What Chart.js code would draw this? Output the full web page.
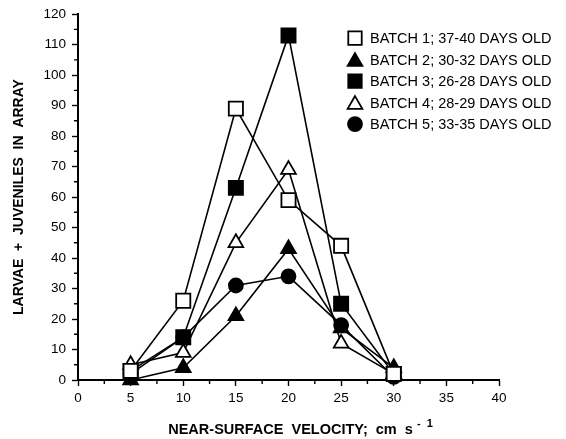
<!DOCTYPE html>
<html>
<head>
<meta charset="utf-8">
<script src="https://cdn.jsdelivr.net/npm/chart.js@4/dist/chart.umd.min.js"></script>
<style>
html,body{margin:0;padding:0;background:#fff;}
#wrap{width:566px;height:439px;}
</style>
</head>
<body>
<div id="wrap"><canvas id="c" width="566" height="439"></canvas></div>
<script>
// ---- data ----
const velocities = [5, 10, 15, 20, 25, 30];
const seriesLabels = [
  "BATCH 1; 37-40 DAYS OLD",
  "BATCH 2; 30-32 DAYS OLD",
  "BATCH 3; 26-28 DAYS OLD",
  "BATCH 4; 28-29 DAYS OLD",
  "BATCH 5; 33-35 DAYS OLD"
];
const batch1 = [3, 26, 89, 59, 44, 2];
const batch2 = [0, 4, 21, 43, 17, 4];
const batch3 = [3, 14, 63, 113, 25, 2];
const batch4 = [5, 9, 45, 69, 12, 2];
const batch5 = [2, 14, 31, 34, 18, 1];
const xTickValues = [0, 5, 10, 15, 20, 25, 30, 35, 40];
const yTickValues = [0, 10, 20, 30, 40, 50, 60, 70, 80, 90, 100, 110, 120];
const xTitle = "NEAR-SURFACE  VELOCITY;  cm  s";
const xTitleSup = "-  1";
const yTitle = "LARVAE  +  JUVENILES  IN  ARRAY";

// ---- styles ----
const FONT = '"Liberation Sans", Arial, Helvetica, sans-serif';
const markerStyles = [
  {pointStyle: 'rect', filled: false, radius: 10},
  {pointStyle: 'triangle', filled: true, radius: 8.5},
  {pointStyle: 'rect', filled: true, radius: 10},
  {pointStyle: 'triangle', filled: false, radius: 8.5},
  {pointStyle: 'circle', filled: true, radius: 7}
];
const allSeries = [batch1, batch2, batch3, batch4, batch5];

const datasets = allSeries.map((vals, i) => ({
  label: seriesLabels[i],
  data: velocities.map((v, j) => ({x: v, y: vals[j]})),
  borderColor: '#000',
  borderWidth: 1.6,
  pointStyle: markerStyles[i].pointStyle,
  pointRadius: markerStyles[i].radius,
  pointHoverRadius: markerStyles[i].radius,
  pointBackgroundColor: markerStyles[i].filled ? '#000' : '#fff',
  pointBorderColor: '#000',
  pointBorderWidth: 1.8,
  tension: 0,
  fill: false,
  clip: false
}));

const minorTicks = {
  id: 'minorTicks',
  afterDraw(chart) {
    const ctx = chart.ctx;
    const xs = chart.scales.x, ys = chart.scales.y;
    ctx.save();
    ctx.strokeStyle = '#000';
    ctx.lineWidth = 1.4;
    ctx.beginPath();
    for (let i = 0; i < xTickValues.length - 1; i++) {
      const v = (xTickValues[i] + xTickValues[i + 1]) / 2;
      const px = xs.getPixelForValue(v);
      ctx.moveTo(px, ys.bottom);
      ctx.lineTo(px, ys.bottom + 4);
    }
    for (let i = 0; i < yTickValues.length - 1; i++) {
      const v = (yTickValues[i] + yTickValues[i + 1]) / 2;
      const py = ys.getPixelForValue(v);
      ctx.moveTo(xs.left, py);
      ctx.lineTo(xs.left - 4, py);
    }
    ctx.stroke();
    ctx.restore();
  }
};

const xTitlePlugin = {
  id: 'xTitle',
  afterDraw(chart) {
    const ctx = chart.ctx;
    const ca = chart.chartArea;
    ctx.save();
    ctx.fillStyle = '#000';
    ctx.textBaseline = 'alphabetic';
    ctx.textAlign = 'left';
    ctx.font = 'bold 14.5px ' + FONT;
    const w1 = ctx.measureText(xTitle).width;
    ctx.font = 'bold 11px ' + FONT;
    const w2 = ctx.measureText(xTitleSup).width;
    const total = w1 + 4 + w2;
    const cx = (ca.left + ca.right) / 2 + 12;
    const x = cx - total / 2;
    const y = ca.bottom + 54;
    ctx.font = 'bold 14.5px ' + FONT;
    ctx.fillText(xTitle, x, y);
    ctx.font = 'bold 11px ' + FONT;
    ctx.fillText(xTitleSup, x + w1 + 4, y - 7);
    ctx.restore();
  }
};

const legendPlugin = {
  id: 'insideLegend',
  afterDraw(chart) {
    const ctx = chart.ctx;
    const ca = chart.chartArea;
    const sx = ca.left + 277, tx = ca.left + 292, y0 = ca.top + 24, dy = 21.5;
    ctx.save();
    chart.data.datasets.forEach((ds, i) => {
      const y = y0 + i * dy;
      ctx.fillStyle = ds.pointBackgroundColor;
      ctx.strokeStyle = '#000';
      ctx.lineWidth = ds.pointBorderWidth;
      const r = ds.pointStyle === 'rect' ? ds.pointRadius - 0.5 : ds.pointRadius;
      const yy = ds.pointStyle === 'triangle' ? y + 2 : y;
      Chart.helpers.drawPoint(ctx, {pointStyle: ds.pointStyle, radius: r, borderWidth: ds.pointBorderWidth, rotation: 0}, sx, yy);
      ctx.fillStyle = '#000';
      ctx.font = '14.5px ' + FONT;
      ctx.textBaseline = 'middle';
      ctx.textAlign = 'left';
      ctx.fillText(ds.label, tx, y + 1);
    });
    ctx.restore();
  }
};

new Chart(document.getElementById('c'), {
  type: 'line',
  data: {datasets},
  options: {
    responsive: false,
    animation: false,
    devicePixelRatio: 1,
    layout: {padding: {top: 13, right: 67, left: 0, bottom: 0}},
    plugins: {legend: {display: false}, tooltip: {enabled: false}},
    scales: {
      x: {
        type: 'linear',
        min: xTickValues[0],
        max: xTickValues[xTickValues.length - 1],
        afterBuildTicks(scale) { scale.ticks = xTickValues.map(v => ({value: v})); },
        afterFit(scale) { scale.height = 59; },
        ticks: {color: '#000', font: {family: FONT, size: 13.5}, padding: 4, maxRotation: 0, autoSkip: false},
        grid: {display: true, drawOnChartArea: false, drawTicks: true, tickLength: 6, tickColor: '#000', tickWidth: 1.4},
        border: {display: true, color: '#000', width: 2}
      },
      y: {
        type: 'linear',
        min: yTickValues[0],
        max: yTickValues[yTickValues.length - 1],
        afterBuildTicks(scale) { scale.ticks = yTickValues.map(v => ({value: v})); },
        afterFit(scale) { scale.width = 78; },
        ticks: {color: '#000', font: {family: FONT, size: 13.5}, padding: 6, autoSkip: false},
        grid: {display: true, drawOnChartArea: false, drawTicks: true, tickLength: 6, tickColor: '#000', tickWidth: 1.4},
        border: {display: true, color: '#000', width: 2},
        title: {display: true, text: yTitle, color: '#000', font: {family: FONT, size: 14, weight: 'bold'}, padding: {top: 11, bottom: 0}}
      }
    }
  },
  plugins: [minorTicks, xTitlePlugin, legendPlugin]
});
</script>
</body>
</html>
